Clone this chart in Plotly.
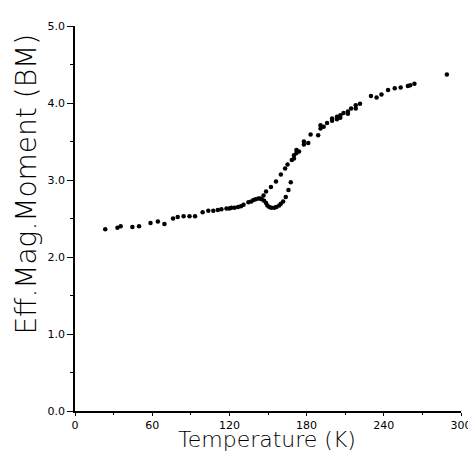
import plotly.graph_objects as go

# Temperature (K) and effective magnetic moment (BM)
temp_low = [23.5, 33, 35.5, 44.6, 49.8, 58.7, 64.4, 69.5, 76.2, 79.8, 84.4, 89, 93.3,
            99.2, 103.6, 107.5, 111, 113.8, 117.7, 120, 121.5, 124, 126.7, 129, 131,
            134.8, 137, 138.7, 140.5, 142.5, 144, 145.2]
moment_low = [2.36, 2.38, 2.40, 2.39, 2.40, 2.44, 2.46, 2.43, 2.50, 2.52, 2.53, 2.53, 2.53,
              2.58, 2.60, 2.60, 2.61, 2.62, 2.63, 2.63, 2.64, 2.64, 2.65, 2.66, 2.68,
              2.71, 2.72, 2.74, 2.75, 2.76, 2.76, 2.75]

temp_dip = [147, 148.5, 149.5, 151, 152.5, 154.8, 156.5, 158.7, 160, 161.8, 163.8, 165.9, 167.7]
moment_dip = [2.73, 2.70, 2.67, 2.65, 2.64, 2.64, 2.65, 2.67, 2.69, 2.72, 2.78, 2.87, 2.97]

temp_high = [146.5, 148.5, 152.3, 156.2, 160, 163.3, 165.2, 168.5, 170.2, 170.2, 172.1, 172.1,
             174.1, 177.9, 177.9, 181.3, 183.1, 189, 190.8, 190.8, 193.3, 195.9, 199.8, 199.8,
             203.6, 203.6, 206.2, 206.2, 208.7, 212.1, 212.1, 214.6, 218.2, 218.2, 221.5,
             230, 234.4, 238.2, 243.3, 248.5, 253.1, 258.7, 260.5, 263.8, 289]
moment_high = [2.80, 2.85, 2.91, 2.98, 3.07, 3.15, 3.20, 3.26, 3.32, 3.28, 3.39, 3.35,
               3.37, 3.50, 3.46, 3.48, 3.59, 3.58, 3.71, 3.67, 3.69, 3.74, 3.80, 3.77,
               3.82, 3.79, 3.84, 3.81, 3.87, 3.89, 3.86, 3.93, 3.97, 3.93, 3.99,
               4.09, 4.07, 4.11, 4.17, 4.19, 4.20, 4.22, 4.23, 4.25, 4.37]

x_ticks = [0, 60, 120, 180, 240, 300]
y_ticks = [0, 1, 2, 3, 4, 5]
y_tick_labels = ["0.0", "1.0", "2.0", "3.0", "4.0", "5.0"]

x_title = "Temperature (K)"
y_title = "Eff.Mag.Moment (BM)"

fig = go.Figure()
for xs, ys in [(temp_low, moment_low), (temp_dip, moment_dip), (temp_high, moment_high)]:
    fig.add_trace(go.Scatter(x=xs, y=ys, mode="markers",
                             marker=dict(color="black", size=4.5, line=dict(width=0)),
                             showlegend=False))

tick_font = dict(family="DejaVu Sans", size=11, color="black")
fig.update_xaxes(range=[0, 300], tickvals=x_ticks, ticktext=[str(v) for v in x_ticks],
                 showline=True, linecolor="black", linewidth=1.5,
                 ticks="outside", ticklen=3, tickwidth=1.2, tickcolor="black",
                 minor=dict(dtick=30, ticks="outside", ticklen=2, tickcolor="black", tickwidth=1),
                 showgrid=False, zeroline=False, tickfont=tick_font)
fig.update_yaxes(range=[0, 5], tickvals=y_ticks, ticktext=y_tick_labels,
                 showline=True, linecolor="black", linewidth=1.5,
                 ticks="outside", ticklen=6, tickwidth=1.2, tickcolor="black",
                 minor=dict(dtick=0.5, ticks="outside", ticklen=3, tickcolor="black", tickwidth=1),
                 showgrid=False, zeroline=False, tickfont=tick_font)

fig.add_annotation(text=x_title, xref="paper", yref="paper", x=0.497, y=-0.108,
                   xanchor="center", yanchor="bottom", showarrow=False, borderpad=0,
                   font=dict(family="DejaVu Sans", size=22, color="black", weight=200))
fig.add_annotation(text=y_title, xref="paper", yref="paper", x=-0.125, y=0.59,
                   xanchor="center", yanchor="middle", textangle=-90, showarrow=False,
                   font=dict(family="DejaVu Sans", size=28, color="black", weight=200))

fig.update_layout(width=476, height=452, margin=dict(l=67, r=19, t=17, b=49),
                  plot_bgcolor="white", paper_bgcolor="white")

fig.write_html("out.html")
